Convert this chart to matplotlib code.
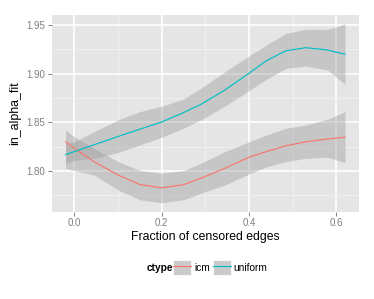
import matplotlib
matplotlib.use("Agg")
import matplotlib.pyplot as plt
from matplotlib.patches import Patch
from matplotlib.lines import Line2D
from matplotlib.ticker import MultipleLocator

plt.rcParams["font.family"] = ["Liberation Sans", "DejaVu Sans"]

# fraction of censored edges (x positions)
frac = [-0.02, 0.0, 0.045, 0.10, 0.15, 0.20, 0.25, 0.29, 0.345, 0.40,
        0.44, 0.485, 0.53, 0.58, 0.62]

# smoothed fit and confidence band per ctype
icm_fit = [1.830, 1.8234, 1.8097, 1.796, 1.7862, 1.7828, 1.786, 1.7926, 1.8029,
           1.8142, 1.820, 1.8261, 1.830, 1.833, 1.8347]
icm_lo = [1.8029, 1.8005, 1.796, 1.7806, 1.7706, 1.7674, 1.7706, 1.7772, 1.7857,
          1.797, 1.8045, 1.8097, 1.8131, 1.8142, 1.8087]
icm_hi = [1.8422, 1.8353, 1.8234, 1.8097, 1.8008, 1.7978, 1.8005, 1.808, 1.820,
          1.830, 1.8371, 1.844, 1.8473, 1.8532, 1.861]

uniform_fit = [1.817, 1.820, 1.827, 1.8355, 1.843, 1.8504, 1.860, 1.8685, 1.8833,
               1.9004, 1.9134, 1.9236, 1.9267, 1.9243, 1.920]
uniform_lo = [1.808, 1.811, 1.8131, 1.819, 1.8268, 1.8347, 1.844, 1.8525, 1.8668,
              1.8826, 1.8943, 1.9055, 1.9079, 1.9038, 1.889]
uniform_hi = [1.8285, 1.830, 1.8405, 1.8525, 1.861, 1.8665, 1.874, 1.885, 1.902,
              1.9182, 1.9295, 1.9414, 1.9456, 1.9455, 1.951]

ctypes = ["icm", "uniform"]
colors = {"icm": "#F8766D", "uniform": "#00BFC4"}
series = {
    "icm": (icm_fit, icm_lo, icm_hi),
    "uniform": (uniform_fit, uniform_lo, uniform_hi),
}

fig = plt.figure(figsize=(3.74, 2.99), dpi=100)
ax = fig.add_axes([0.138, 0.291, 0.822, 0.659])
ax.set_facecolor("#E5E5E5")
for side in ax.spines.values():
    side.set_visible(False)

for name in ctypes:
    fit, lo, hi = series[name]
    ax.fill_between(frac, lo, hi, color="#999999", alpha=0.4, linewidth=0, zorder=2)
for name in ctypes:
    fit, lo, hi = series[name]
    ax.plot(frac, fit, color=colors[name], linewidth=0.85, zorder=3)

ax.set_xlim(-0.052, 0.652)
ax.set_ylim(1.758, 1.9603)
ax.xaxis.set_minor_locator(MultipleLocator(0.1))
ax.yaxis.set_minor_locator(MultipleLocator(0.025))
ax.set_xticks([0.0, 0.2, 0.4, 0.6])
ax.set_xticklabels(["0.0", "0.2", "0.4", "0.6"])
ax.set_yticks([1.80, 1.85, 1.90, 1.95])
ax.set_yticklabels(["1.80", "1.85", "1.90", "1.95"])

ax.grid(True, which="major", color="white", linewidth=1.2, zorder=0)
ax.grid(True, which="minor", color="#F2F2F2", linewidth=0.6, zorder=0)
ax.set_axisbelow(True)
ax.tick_params(which="major", length=3, width=0.7, color="#7F7F7F",
               labelcolor="#7F7F7F", labelsize=7, pad=1.5)
ax.tick_params(which="minor", length=0)

ax.set_xlabel("Fraction of censored edges", fontsize=8.8, labelpad=2)
ax.set_ylabel("in_alpha_fit", fontsize=8.8, labelpad=4)

handles = [
    (Patch(facecolor="#CBCBCB", edgecolor="white", linewidth=0.6),
     Line2D([], [], color=colors[name], linewidth=0.85))
    for name in ctypes
]
fig.text(0.463, 0.105, "ctype", fontsize=7.3, fontweight="bold",
         ha="right", va="center")
fig.legend(handles, ctypes, loc="center left", bbox_to_anchor=(0.463, 0.105),
           ncol=2, frameon=False, fontsize=7.3, handlelength=1.8,
           handleheight=1.8, handletextpad=0.25, columnspacing=0.3,
           borderaxespad=0, borderpad=0)

fig.savefig("out.png", dpi=100)
